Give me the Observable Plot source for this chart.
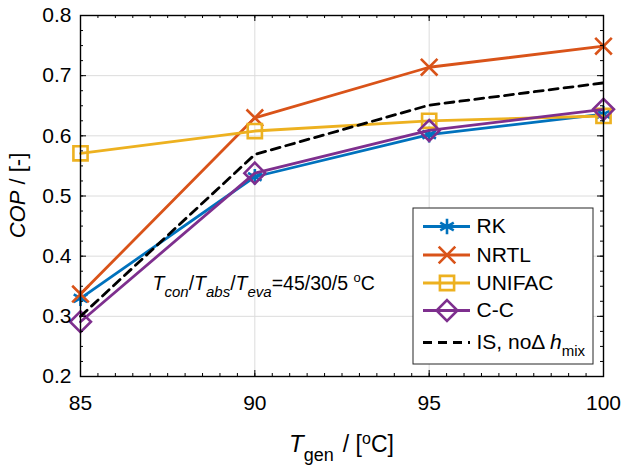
<!DOCTYPE html>
<html><head><meta charset="utf-8">
<script src="https://cdn.jsdelivr.net/npm/d3@7"></script>
<script src="https://cdn.jsdelivr.net/npm/@observablehq/plot@0.6"></script>
<style>
body{margin:0;background:#fff;}
#wrap{position:relative;width:623px;height:470px;}
#legend{position:absolute;left:412px;top:207px;}
</style></head><body><div id="wrap"></div>
<script>
// ---- data ----
const temps = [85, 90, 95, 100];
const seriesNames = ["RK", "NRTL", "UNIFAC", "C-C", "IS, no\u0394h_mix"];
const rk     = [0.330, 0.532, 0.602, 0.636];
const nrtl   = [0.337, 0.630, 0.714, 0.749];
const unifac = [0.571, 0.608, 0.625, 0.633];
const cc     = [0.291, 0.538, 0.609, 0.644];
const isNoMix = [0.300, 0.569, 0.651, 0.688];
const xTicks = [85, 90, 95, 100];
const yTicks = [0.2, 0.3, 0.4, 0.5, 0.6, 0.7, 0.8];
const annotPos = {x: 87.08, y: 0.343};

// ---- styles ----
const colors = ["#0072BD", "#D95319", "#EDB120", "#7E2F8E", "#000000"];
const symbols = ["asterisk", "times", "square", "diamond2", null];
const symR = [7.4, 7.6, 8, 9.4, 0];
const dashes = [null, null, null, null, "9,6"];
const FONT = "'Liberation Sans', Arial, Helvetica, sans-serif";

const values = [rk, nrtl, unifac, cc, isNoMix];
const series = seriesNames.map((name, i) => ({
  name, color: colors[i], symbol: symbols[i], r: symR[i], dash: dashes[i],
  rows: temps.map((t, j) => ({t, v: values[i][j]}))
}));

const W = 623, H = 470, mL = 80, mR = 20, mT = 15, mB = 94;
const fw = W - mL - mR, fh = H - mT - mB;
const xMinor = d3.range(85, 100.001, 0.5);
const yMinor = d3.range(0.2, 0.8001, 0.025);
const LINE_W = 2.8, MARK_W = 2.6;

const seriesMarks = [];
series.forEach(s => {
  seriesMarks.push(Plot.line(s.rows, {x: "t", y: "v", stroke: s.color, strokeWidth: LINE_W, strokeDasharray: s.dash}));
  if (s.symbol) seriesMarks.push(Plot.dot(s.rows, {x: "t", y: "v", symbol: s.symbol, r: s.r, stroke: s.color, strokeWidth: MARK_W, fill: "none"}));
});

const chart = Plot.plot({
  width: W, height: H,
  marginLeft: mL, marginRight: mR, marginTop: mT, marginBottom: mB,
  style: {fontFamily: FONT, fontSize: "21px", color: "#000", background: "#fff"},
  x: {domain: [85, 100]},
  y: {domain: [0.2, 0.8]},
  marks: [
    Plot.gridX(xTicks, {stroke: "#dcdcdc", strokeOpacity: 1, strokeWidth: 1}),
    Plot.gridY(yTicks, {stroke: "#dcdcdc", strokeOpacity: 1, strokeWidth: 1}),
    ...seriesMarks,
    // inward ticks on all four sides
    Plot.tickX(xTicks, {x: d => d, insetTop: fh - 6, stroke: "#000", strokeWidth: 1}),
    Plot.tickX(xTicks, {x: d => d, insetBottom: fh - 6, stroke: "#000", strokeWidth: 1}),
    Plot.tickX(xMinor, {x: d => d, insetTop: fh - 3, stroke: "#000", strokeWidth: 1}),
    Plot.tickX(xMinor, {x: d => d, insetBottom: fh - 3, stroke: "#000", strokeWidth: 1}),
    Plot.tickY(yTicks, {y: d => d, insetRight: fw - 6, stroke: "#000", strokeWidth: 1}),
    Plot.tickY(yTicks, {y: d => d, insetLeft: fw - 6, stroke: "#000", strokeWidth: 1}),
    Plot.tickY(yMinor, {y: d => d, insetRight: fw - 3, stroke: "#000", strokeWidth: 1}),
    Plot.tickY(yMinor, {y: d => d, insetLeft: fw - 3, stroke: "#000", strokeWidth: 1}),
    Plot.frame({stroke: "#000", strokeWidth: 1.4}),
    Plot.axisX(xTicks, {tickSize: 0, tickPadding: 19, label: null, tickFormat: "d", fontSize: 21}),
    Plot.axisY(yTicks, {tickSize: 0, tickPadding: 9, label: null, tickFormat: ".1f", fontSize: 21})
  ]
});
document.getElementById("wrap").appendChild(chart);

// ---- rich-text labels ----
const svg = d3.select(chart);
const sx = chart.scale("x"), sy = chart.scale("y");
function rich(parts, attrs) {
  const t = svg.append("text").attr("font-family", FONT).attr("fill", "#000");
  Object.entries(attrs).forEach(([k, v]) => t.attr(k, v));
  parts.forEach(p => {
    const ts = t.append("tspan").text(p.s);
    if (p.it) ts.attr("font-style", "italic");
    if (p.fs) ts.attr("font-size", p.fs);
    if (p.dy) ts.attr("dy", p.dy);
    if (p.dx) ts.attr("dx", p.dx);
  });
  return t;
}
// x label
rich([
  {s: "T", it: true, fs: 24},
  {s: "gen", fs: 18, dy: 9},
  {s: "/ [", dy: -9, dx: 9},
  {s: "o", fs: 16, dy: -8},
  {s: "C]", dy: 8}
], {x: (mL + W - mR) / 2, y: 452, "text-anchor": "middle", "font-size": 23});
// y label
rich([
  {s: "COP", it: true},
  {s: " / [-]"}
], {transform: `translate(25,${mT + fh / 2}) rotate(-90)`, "text-anchor": "middle", "font-size": 22});
// annotation
rich([
  {s: "T", it: true},
  {s: "con", it: true, fs: 15, dy: 7},
  {s: "/", dy: -7},
  {s: "T", it: true},
  {s: "abs", it: true, fs: 15, dy: 7},
  {s: "/", dy: -7},
  {s: "T", it: true},
  {s: "eva", it: true, fs: 15, dy: 7},
  {s: "=45/30/5 ", dy: -7},
  {s: "o", fs: 13, dy: -8},
  {s: "C", dy: 8}
], {x: sx.apply(annotPos.x), y: sy.apply(annotPos.y), "font-size": 19.5, "text-anchor": "start"});

// ---- legend (separate Plot overlay) ----
const LW = 181, LH = 157;
const legendRowY = [19, 47.5, 75.5, 103, 135];
const legendMarks = [Plot.frame({fill: "#fff", stroke: "#262626", strokeWidth: 1, inset: 0.5})];
series.forEach((s, i) => {
  legendMarks.push(Plot.ruleY([legendRowY[i]], {y: d => d, x1: 11, x2: 58, stroke: s.color, strokeWidth: LINE_W, strokeDasharray: s.dash}));
  if (s.symbol) legendMarks.push(Plot.dot([legendRowY[i]], {x: 34.5, y: d => d, symbol: s.symbol, r: s.r, stroke: s.color, strokeWidth: MARK_W, fill: "none"}));
});
legendMarks.push(Plot.text(seriesNames, {x: 64, y: (d, i) => legendRowY[i], text: d => d, textAnchor: "start", fontSize: 21, fill: "#000"}));
const legend = Plot.plot({
  width: LW, height: LH, margin: 0,
  style: {fontFamily: FONT, background: "transparent", overflow: "visible"},
  x: {type: "identity", axis: null},
  y: {type: "identity", axis: null},
  marks: legendMarks
});
legend.id = "legend";
legend.style.position = "absolute";
legend.style.left = "412px";
legend.style.top = "207px";
document.getElementById("wrap").appendChild(legend);
// rich text for the last legend entry
const lt = d3.select(legend).selectAll('g[aria-label="text"] text').filter((d, i, n) => i === n.length - 1);
lt.text(null);
lt.append("tspan").text("IS, no\u0394 ");
lt.append("tspan").attr("font-style", "italic").text("h");
lt.append("tspan").attr("font-size", 15).attr("dy", 7).text("mix");
</script></body></html>
